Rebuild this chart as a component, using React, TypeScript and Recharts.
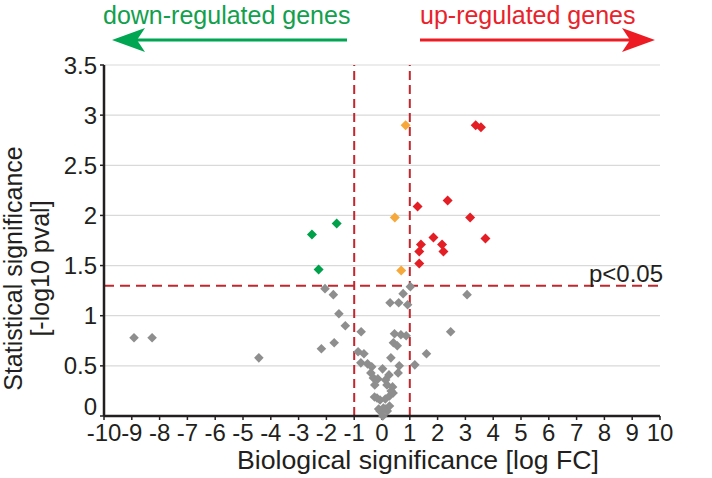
import React from 'react';
import { ScatterChart, Scatter, XAxis, YAxis, CartesianGrid, ReferenceLine } from 'recharts';

const xTicks = [-10, -9, -8, -7, -6, -5, -4, -3, -2, -1, 0, 1, 2, 3, 4, 5, 6, 7, 8, 9, 10];
const yTicks = [0, 0.5, 1, 1.5, 2, 2.5, 3, 3.5];

// [log FC, -log10 pval]
const grayGenes: [number, number][] = [
  [-8.92, 0.78], [-8.27, 0.78], [-4.43, 0.58],
  [-2.05, 1.27], [-1.75, 1.21], [-1.55, 1.02], [-1.32, 0.9], [-2.18, 0.67], [-1.72, 0.73],
  [-0.75, 0.84], [-0.86, 0.64], [-0.65, 0.62], [-0.76, 0.53], [-0.52, 0.52], [-0.37, 0.49],
  [0.02, 0.47], [-0.4, 0.43], [-0.31, 0.38], [-0.15, 0.37], [-0.26, 0.31],
  [0.13, 0.36], [0.25, 0.41], [0.18, 0.31], [0.38, 0.29], [0.58, 0.43], [0.62, 0.5],
  [0.32, 0.58], [0.41, 0.73], [0.55, 0.7], [0.45, 0.82], [0.68, 0.81], [0.87, 0.8],
  [0.29, 1.13], [0.6, 1.13], [0.92, 1.11], [0.76, 1.22], [1.02, 1.29],
  [1.18, 0.51], [1.6, 0.62], [2.47, 0.84], [3.06, 1.21],
  [-0.27, 0.19], [-0.18, 0.18], [-0.07, 0.16], [0.12, 0.17], [0.27, 0.2], [0.4, 0.23],
  [0.33, 0.25], [0.05, 0.08], [-0.07, 0.05], [0.19, 0.05], [0.03, 0.0], [0.12, 0.07],
  [-0.12, 0.07], [0.27, 0.1],
];
const orangeGenes: [number, number][] = [[0.85, 2.9], [0.46, 1.98], [0.69, 1.45]];
const greenGenes: [number, number][] = [[-2.52, 1.81], [-1.63, 1.92], [-2.28, 1.46]];
const redGenes: [number, number][] = [
  [3.37, 2.9], [3.56, 2.88], [1.28, 2.09], [2.36, 2.15], [3.17, 1.98], [3.72, 1.77],
  [1.85, 1.78], [1.4, 1.71], [1.34, 1.64], [2.16, 1.71], [2.21, 1.64], [1.34, 1.52],
];

const pThreshold = 1.3;
const fcThresholds = [-1, 1];

const toPoints = (arr: [number, number][]) => arr.map(([x, y]) => ({ x, y }));

const FONT = '"Liberation Sans", Arial, Helvetica, sans-serif';
const TEXT = '#231f20';
const DASH_RED = '#c1272d';

const diamond = (r: number) => (props: any) => {
  const { cx, cy, fill } = props;
  if (cx == null || cy == null) return null;
  return (
    <polygon
      points={`${cx},${cy - r} ${cx + r},${cy} ${cx},${cy + r} ${cx - r},${cy}`}
      fill={fill}
    />
  );
};

const YTick = (props: any) => {
  const { x, y, payload } = props;
  const shift = payload.value === 0 ? -10 : 0;
  return (
    <text x={x} y={y + shift} dy="0.355em" textAnchor="end" fontSize={24} fill={TEXT} fontFamily={FONT}>
      {String(payload.value)}
    </text>
  );
};

const XTitle = (props: any) => {
  const vb = props.viewBox || { x: 0, y: 0, width: 0, height: 0 };
  return (
    <text
      x={vb.x + vb.width / 2 + 36}
      y={vb.y + 53}
      textAnchor="middle"
      fontSize={25}
      fill={TEXT}
      fontFamily={FONT}
      textLength={362}
      lengthAdjust="spacingAndGlyphs"
    >
      Biological significance [log FC]
    </text>
  );
};

const YTitle = (props: any) => {
  const vb = props.viewBox || { x: 0, y: 0, width: 0, height: 0 };
  const cy = vb.y + vb.height / 2 + 28;
  return (
    <g fontSize={25} fill={TEXT} fontFamily={FONT}>
      <text x={22} y={cy} textAnchor="middle" transform={`rotate(-90 22 ${cy})`}>Statistical significance</text>
      <text x={49} y={cy} textAnchor="middle" transform={`rotate(-90 49 ${cy})`}>[-log10 pval]</text>
    </g>
  );
};

const PLabel = (props: any) => {
  const vb = props.viewBox || { x: 0, y: 0, width: 0 };
  return (
    <text x={vb.x + vb.width + 3} y={vb.y - 4} textAnchor="end" fontSize={24} fill={TEXT} fontFamily={FONT}>
      p&lt;0.05
    </text>
  );
};

export default function App() {
  return (
    <div style={{ position: 'absolute', left: 0, top: 0, width: 712, height: 478, background: '#fff' }}>
      <ScatterChart width={712} height={478} margin={{ top: 65, right: 52, bottom: 32, left: 0 }}>
        <CartesianGrid horizontal vertical={false} stroke="#d9d9d9" strokeWidth={1.2} />
        <XAxis
          type="number"
          dataKey="x"
          domain={[-10, 10]}
          ticks={xTicks}
          interval={0}
          height={30}
          axisLine={{ stroke: TEXT, strokeWidth: 2.5 }}
          tickLine={{ stroke: TEXT, strokeWidth: 1.5 }}
          tickSize={4}
          tickMargin={4}
          tick={{ fill: TEXT, fontSize: 24, fontFamily: FONT }}
          label={{ content: XTitle }}
        />
        <YAxis
          type="number"
          dataKey="y"
          domain={[0, 3.5]}
          ticks={yTicks}
          interval={0}
          width={104}
          axisLine={{ stroke: TEXT, strokeWidth: 2.5 }}
          tickLine={{ stroke: TEXT, strokeWidth: 1.5 }}
          tickSize={4}
          tickMargin={3}
          tick={YTick}
          label={{ content: YTitle }}
        />
        <Scatter data={toPoints(grayGenes)} fill="#8e8e8e" shape={diamond(4.8)} isAnimationActive={false} />
        <Scatter data={toPoints(orangeGenes)} fill="#f7a83b" shape={diamond(5)} isAnimationActive={false} />
        <Scatter data={toPoints(greenGenes)} fill="#00a14b" shape={diamond(5)} isAnimationActive={false} />
        <Scatter data={toPoints(redGenes)} fill="#e31e25" shape={diamond(5)} isAnimationActive={false} />
        {fcThresholds.map((v) => (
          <ReferenceLine key={v} x={v} stroke={DASH_RED} strokeWidth={2} strokeDasharray="9 5" />
        ))}
        <ReferenceLine y={pThreshold} stroke={DASH_RED} strokeWidth={2} strokeDasharray="10 6" label={{ content: PLabel }} />
      </ScatterChart>
      <svg width={712} height={478} style={{ position: 'absolute', left: 0, top: 0, pointerEvents: 'none' }}>
        <text x={103} y={24} fontSize={25} fill="#12a04d" fontFamily={FONT}>down-regulated genes</text>
        <line x1={347} y1={40} x2={136} y2={40} stroke="#00a651" strokeWidth={3} />
        <polygon points="112,40 145,28 137,40 145,52" fill="#00a651" />
        <text x={420} y={24} fontSize={25} fill="#e8232b" fontFamily={FONT}>up-regulated genes</text>
        <line x1={420} y1={40} x2={631} y2={40} stroke="#ed1c24" strokeWidth={3} />
        <polygon points="655,40 622,28 630,40 622,52" fill="#ed1c24" />
      </svg>
    </div>
  );
}
